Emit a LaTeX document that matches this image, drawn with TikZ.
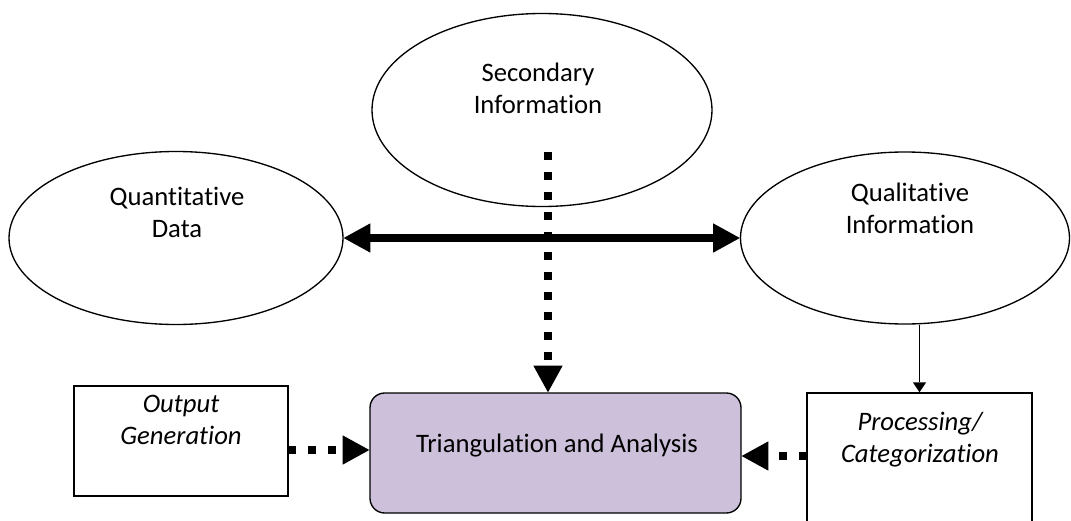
\documentclass[tikz,border=0pt]{standalone}
\usepackage{fontspec}
\setmainfont{Carlito}[Ligatures=NoCommon]
\usetikzlibrary{shapes.geometric,arrows.meta}
\definecolor{lilac}{HTML}{CCC0DA}
\newcommand*{\sz}{\fontsize{20}{24}\selectfont}

\begin{document}
\begin{tikzpicture}[x=.75pt,y=-.75pt,
  oval/.style={draw,ellipse,line width=1pt,inner sep=0pt},
  card/.style={draw,line width=1pt,inner sep=0pt},
  lbl/.style={align=center,inner sep=0pt,font=\sz},
  heavy/.style={line width=6pt,-{Triangle[length=20pt,width=22pt,line width=0pt]}},
  dots/.style={heavy,dash pattern=on 6pt off 9pt}]
\useasboundingbox (0,0) rectangle (1071,521);

\node[oval,minimum width=255pt,minimum height=144.75pt] (sec) at (542,110) {};
\node[oval,minimum width=250.5pt,minimum height=129.75pt] (quan) at (176,238) {};
\node[oval,minimum width=246.75pt,minimum height=129pt] (qual) at (905,238) {};

\node[card,minimum width=160.5pt,minimum height=82.5pt] (out) at (181,441) {};
\node[card,fill=lilac,rounded corners=11pt,minimum width=278.25pt,minimum height=90pt] (tri) at (555.5,453) {};
\node[card,minimum width=168.75pt,minimum height=114pt] (proc) at (919.5,469) {};

\node[lbl] (sectxt) at (538,88) {Secondary\\Information};
\node[lbl] (quantxt) at (177,212) {Quantitative\\Data};
\node[lbl] (qualtxt) at (910,208) {Qualitative\\Information};
\node[lbl,font=\sz\itshape] (outtxt) at (181,420) {Output\\Generation};
\node[lbl] (tritxt) at (557,446) {Triangulation and Analysis};
\node[lbl,font=\sz\itshape] (proctxt) at (920,440) {Processing/\\Categorization};

\coordinate (secfoot) at (548,152);
\coordinate (outport) at (288,450);
\coordinate (procport) at (807,456);

\draw[line width=6pt,{Triangle[length=20pt,width=22pt,line width=0pt]}-{Triangle[length=20pt,width=22pt,line width=0pt]}] (quan.east) -- (qual.west);
\draw[dots] (secfoot) -- (secfoot |- tri.north);
\draw[dots] (outport) -- (outport -| tri.west);
\draw[dots] (procport) -- (procport -| tri.east);
\draw[line width=1.2pt,-{Triangle[length=7.5pt,width=10pt,line width=0pt]}] (proc.north |- qual.south) -- (proc.north);
\end{tikzpicture}
\end{document}
